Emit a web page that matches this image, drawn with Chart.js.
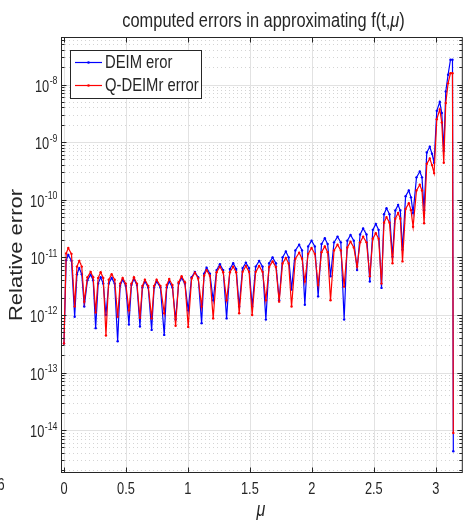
<!DOCTYPE html>
<html>
<head>
<meta charset="utf-8">
<script src="https://cdn.jsdelivr.net/npm/chart.js@4.4.1/dist/chart.umd.min.js"></script>
<style>
  html, body { margin: 0; padding: 0; background: #fff; }
  canvas { display: block; }
</style>
</head>
<body>
<canvas id="errChart" width="464" height="523"></canvas>
<script>
// sample points in mu
const MU = [
  0, 0.0177, 0.0347, 0.0605, 0.0863,
  0.1048, 0.1234, 0.1435, 0.1637,
  0.1895, 0.2153, 0.2355, 0.2556,
  0.2758, 0.2960, 0.3169, 0.3387,
  0.3613, 0.3847, 0.4089, 0.4331,
  0.4532, 0.4734, 0.4984, 0.5242,
  0.5444, 0.5645, 0.5887, 0.6129,
  0.6331, 0.6532, 0.6798, 0.7073,
  0.7274, 0.7476, 0.7782, 0.8089,
  0.8290, 0.8492, 0.8750, 0.9008,
  0.9250, 0.9492, 0.9758, 1.0024,
  1.0298, 1.0565, 1.0831, 1.1105,
  1.1306, 1.1508, 1.1774, 1.2040,
  1.2315, 1.2581, 1.2847, 1.3121,
  1.3387, 1.3653, 1.3895, 1.4137,
  1.4411, 1.4677, 1.4935, 1.5185,
  1.5468, 1.5750, 1.6024, 1.6290,
  1.6556, 1.6831, 1.7097, 1.7363,
  1.7637, 1.7903, 1.8129, 1.8363,
  1.8669, 1.8976, 1.9210, 1.9435,
  1.9702, 1.9976, 2.0242, 2.0508,
  2.0782, 2.1048, 2.1274, 2.1508,
  2.1790, 2.2073, 2.2339, 2.2605,
  2.2863, 2.3121, 2.3387, 2.3653,
  2.3895, 2.4137, 2.4411, 2.4677,
  2.4919, 2.5161, 2.5387, 2.5621,
  2.5823, 2.6024, 2.6266, 2.6508,
  2.6734, 2.6960, 2.7137, 2.7315,
  2.7565, 2.7823, 2.8000, 2.8169,
  2.8444, 2.8710, 2.8887, 2.9056,
  2.9274, 2.9516, 2.9694, 2.9863,
  3.0081, 3.0323, 3.0484, 3.0645,
  3.0806, 3.0992, 3.1185, 3.1347, 3.1416
];

const DEIM_ERR = [
  3.2e-13, 8.9e-12, 1.1e-11, 8.7e-12, 9.3e-13,
  5.1e-12, 6.5e-12, 5.1e-12, 1.4e-12,
  4.0e-12, 5.0e-12, 4.0e-12, 5.9e-13,
  3.5e-12, 4.5e-12, 3.5e-12, 1.0e-12,
  3.5e-12, 4.4e-12, 3.5e-12, 3.5e-13,
  3.2e-12, 4.1e-12, 3.2e-12, 6.8e-13,
  3.3e-12, 4.2e-12, 3.3e-12, 6.3e-13,
  3.0e-12, 3.8e-12, 3.0e-12, 5.5e-13,
  3.0e-12, 3.8e-12, 3.0e-12, 4.5e-13,
  3.0e-12, 3.8e-12, 3.0e-12, 8.3e-13,
  3.5e-12, 4.4e-12, 3.5e-12, 1.2e-12,
  4.5e-12, 5.6e-12, 4.5e-12, 7.2e-13,
  5.2e-12, 6.6e-12, 5.2e-12, 1.8e-12,
  6.0e-12, 7.6e-12, 6.0e-12, 8.7e-13,
  6.3e-12, 7.9e-12, 6.3e-12, 1.4e-12,
  6.5e-12, 8.1e-12, 6.5e-12, 1.4e-12,
  6.9e-12, 8.7e-12, 6.9e-12, 8.3e-13,
  7.9e-12, 1.0e-11, 7.9e-12, 1.8e-12,
  1.0e-11, 1.26e-11, 1.0e-11, 2.75e-12,
  1.32e-11, 1.66e-11, 1.32e-11, 1.5e-12,
  1.55e-11, 1.95e-11, 1.55e-11, 2.1e-12,
  1.7e-11, 2.14e-11, 1.7e-11, 4.7e-12,
  1.82e-11, 2.29e-11, 1.82e-11, 8.3e-13,
  1.95e-11, 2.45e-11, 1.95e-11, 6.0e-12,
  2.5e-11, 3.16e-11, 2.5e-11, 3.8e-12,
  3.0e-11, 3.8e-11, 3.0e-11, 2.95e-12,
  5.6e-11, 7.1e-11, 5.6e-11, 1.02e-11,
  6.5e-11, 8.1e-11, 6.5e-11, 1.35e-11,
  1.15e-10, 1.45e-10, 1.1e-10, 5.9e-11,
  2.45e-10, 3.09e-10, 2.45e-10, 6.6e-11,
  6.6e-10, 8.3e-10, 6.3e-10, 4.4e-10,
  3.5e-9, 5.0e-9, 3.2e-9, 7.1e-10,
  7.6e-9, 1.48e-8, 2.7e-8, 2.7e-8, 4.3e-15
];

const QDEIM_ERR = [
  3.2e-13, 1.17e-11, 1.45e-11, 1.15e-11, 1.4e-12,
  6.9e-12, 8.7e-12, 6.9e-12, 1.7e-12,
  4.5e-12, 5.6e-12, 4.5e-12, 1.1e-12,
  4.4e-12, 5.5e-12, 4.4e-12, 4.4e-13,
  4.1e-12, 5.1e-12, 4.1e-12, 9.3e-13,
  3.5e-12, 4.4e-12, 3.5e-12, 1.2e-12,
  3.5e-12, 4.5e-12, 3.5e-12, 8.9e-13,
  3.2e-12, 4.1e-12, 3.2e-12, 8.7e-13,
  3.2e-12, 4.1e-12, 3.2e-12, 1.07e-12,
  3.3e-12, 4.2e-12, 3.3e-12, 6.5e-13,
  3.7e-12, 4.7e-12, 3.7e-12, 6.2e-13,
  4.3e-12, 5.4e-12, 4.3e-12, 1.4e-12,
  4.8e-12, 6.0e-12, 4.8e-12, 8.7e-13,
  5.5e-12, 6.9e-12, 5.5e-12, 1.8e-12,
  5.5e-12, 6.9e-12, 5.5e-12, 1.07e-12,
  5.6e-12, 7.1e-12, 5.6e-12, 1.0e-12,
  5.6e-12, 7.1e-12, 5.6e-12, 1.8e-12,
  6.8e-12, 8.5e-12, 6.8e-12, 1.7e-12,
  7.8e-12, 9.8e-12, 7.8e-12, 1.4e-12,
  9.5e-12, 1.2e-11, 9.5e-12, 3.8e-12,
  1.15e-11, 1.45e-11, 1.15e-11, 3.3e-12,
  1.23e-11, 1.55e-11, 1.23e-11, 1.8e-12,
  1.32e-11, 1.66e-11, 1.32e-11, 3.1e-12,
  1.48e-11, 1.86e-11, 1.48e-11, 6.9e-12,
  1.82e-11, 2.29e-11, 1.82e-11, 4.7e-12,
  2.1e-11, 2.63e-11, 2.1e-11, 3.5e-12,
  4.0e-11, 5.0e-11, 4.0e-11, 7.9e-12,
  4.7e-11, 5.9e-11, 4.7e-11, 8.5e-12,
  6.9e-11, 8.7e-11, 6.6e-11, 3.4e-11,
  1.45e-10, 1.82e-10, 1.45e-10, 3.9e-11,
  4.2e-10, 5.2e-10, 4.0e-10, 2.9e-10,
  2.5e-9, 3.7e-9, 2.2e-9, 4.4e-10,
  4.8e-9, 1.05e-8, 1.58e-8, 1.58e-8, 8.9e-15
];

const X_TICKS = [0, 0.5, 1, 1.5, 2, 2.5, 3];
const X_TICK_LABELS = ['0', '0.5', '1', '1.5', '2', '2.5', '3'];
const Y_DECADES = [-14, -13, -12, -11, -10, -9, -8];
const SERIES_NAMES = ['DEIM eror', 'Q-DEIMr error'];

const BLUE = '#0000ff';
const RED = '#ff0000';
const INK = '#262626';
const FONT = '"Liberation Sans", Arial, sans-serif';
const SX = 0.8; // the reference text is squeezed horizontally

function squeezed(ctx, str, x, y, size, align, style) {
  ctx.save();
  ctx.translate(x, y);
  ctx.scale(SX, 1);
  ctx.font = (style || '') + ' ' + size + 'px ' + FONT;
  ctx.textAlign = align;
  ctx.textBaseline = 'alphabetic';
  ctx.fillStyle = INK;
  ctx.fillText(str, 0, 0);
  ctx.restore();
}

function widthOf(ctx, str, size, style) {
  ctx.save();
  ctx.font = (style || '') + ' ' + size + 'px ' + FONT;
  const w = ctx.measureText(str).width * SX;
  ctx.restore();
  return w;
}

function hline(ctx, x0, x1, y) { ctx.beginPath(); ctx.moveTo(x0, y); ctx.lineTo(x1, y); ctx.stroke(); }
function vline(ctx, x, y0, y1) { ctx.beginPath(); ctx.moveTo(x, y0); ctx.lineTo(x, y1); ctx.stroke(); }

// matlab style grid: solid majors, dotted minors
const gridPlugin = {
  id: 'matlabGrid',
  beforeDatasetsDraw(chart) {
    const { ctx, chartArea: a, scales: { x, y } } = chart;
    ctx.save();
    ctx.lineWidth = 1;
    ctx.strokeStyle = '#d4d4d4';
    ctx.setLineDash([1, 3]);
    for (let e = -15; e <= -8; e++) {
      for (let k = 2; k <= 9; k++) {
        const v = k * Math.pow(10, e);
        if (v < y.min || v > y.max) continue;
        hline(ctx, a.left, a.right, Math.round(y.getPixelForValue(v)) + 0.5);
      }
    }
    ctx.setLineDash([]);
    ctx.strokeStyle = '#e2e2e2';
    X_TICKS.forEach(t => vline(ctx, Math.round(x.getPixelForValue(t)) + 0.5, a.top, a.bottom));
    Y_DECADES.forEach(e => hline(ctx, a.left, a.right, Math.round(y.getPixelForValue(Math.pow(10, e))) + 0.5));
    ctx.restore();
  },
  afterDatasetsDraw(chart) {
    const { ctx, chartArea: a, scales: { x, y } } = chart;
    ctx.save();
    ctx.strokeStyle = INK;
    ctx.lineWidth = 1;
    const L = a.left + 0.5, R = a.right - 0.5, T = a.top + 0.5, B = a.bottom - 0.5;
    ctx.strokeRect(L, T, R - L, B - T);

    // ticks pointing inward
    X_TICKS.forEach(t => {
      const px = Math.round(x.getPixelForValue(t)) + 0.5;
      vline(ctx, px, B, B - 5);
      vline(ctx, px, T, T + 5);
    });
    for (let e = -15; e <= -8; e++) {
      for (let k = 1; k <= 9; k++) {
        const v = k * Math.pow(10, e);
        if (v < y.min || v > y.max) continue;
        const py = Math.round(y.getPixelForValue(v)) + 0.5;
        const len = k === 1 ? 5 : 3;
        hline(ctx, L, L + len, py);
        hline(ctx, R, R - len, py);
      }
    }

    // tick labels
    X_TICKS.forEach((t, i) => squeezed(ctx, X_TICK_LABELS[i], x.getPixelForValue(t), 494, 16, 'center'));
    Y_DECADES.forEach(e => {
      const py = y.getPixelForValue(Math.pow(10, e));
      const sup = '-' + Math.abs(e);
      const supW = widthOf(ctx, sup, 11);
      squeezed(ctx, sup, 57.5, py - 0.5, 11, 'right');
      squeezed(ctx, '10', 57.5 - supW - 0.5, py + 7, 16, 'right');
    });
    squeezed(ctx, '6', 4.5, 490, 16, 'right');

    // title
    const tA = 'computed errors in approximating f(t,';
    const tB = '\u03bc';
    const tC = ')';
    const ts = 20.5;
    const wA = widthOf(ctx, tA, ts), wB = widthOf(ctx, tB, ts, 'italic'), wC = widthOf(ctx, tC, ts);
    let tx = 263.5 - (wA + wB + wC) / 2;
    squeezed(ctx, tA, tx, 27, ts, 'left'); tx += wA;
    squeezed(ctx, tB, tx, 27, ts, 'left', 'italic'); tx += wB;
    squeezed(ctx, tC, tx, 27, ts, 'left');

    // axis labels
    squeezed(ctx, '\u03bc', 261, 516, 20, 'center', 'italic');
    ctx.save();
    ctx.translate(21.5, (a.top + a.bottom) / 2);
    ctx.scale(SX, 1);
    ctx.rotate(-Math.PI / 2);
    ctx.font = '22px ' + FONT;
    ctx.fillStyle = INK;
    ctx.textAlign = 'center';
    ctx.textBaseline = 'alphabetic';
    ctx.fillText('Relative error', 0, 0);
    ctx.restore();

    // legend box
    ctx.fillStyle = '#fff';
    ctx.fillRect(70.5, 50.5, 131, 48);
    ctx.strokeStyle = INK;
    ctx.strokeRect(70.5, 50.5, 131, 48);
    [[BLUE, 62.5, 67.5], [RED, 85.5, 90.5]].forEach(([col, ly, ty], i) => {
      ctx.strokeStyle = col;
      ctx.lineWidth = 1.2;
      hline(ctx, 75, 102, ly);
      ctx.fillStyle = col;
      ctx.beginPath(); ctx.arc(88.5, ly, 1.3, 0, Math.PI * 2); ctx.fill();
      squeezed(ctx, SERIES_NAMES[i], 105, ty, 18.5, 'left');
    });
    ctx.restore();
  }
};

new Chart(document.getElementById('errChart'), {
  type: 'line',
  data: {
    datasets: [
      { label: SERIES_NAMES[0], data: MU.map((m, i) => ({ x: m, y: DEIM_ERR[i] })), borderColor: BLUE, backgroundColor: BLUE, order: 1 },
      { label: SERIES_NAMES[1], data: MU.map((m, i) => ({ x: m, y: QDEIM_ERR[i] })), borderColor: RED, backgroundColor: RED, order: 0 },
    ],
  },
  options: {
    responsive: false,
    animation: false,
    devicePixelRatio: 1,
    layout: { padding: { top: 37, right: 1, left: 0, bottom: 0 } },
    elements: {
      line: { borderWidth: 1.2, tension: 0 },
      point: { radius: 1.2, borderWidth: 0, hoverRadius: 1.2 },
    },
    plugins: { legend: { display: false }, tooltip: { enabled: false }, title: { display: false } },
    scales: {
      x: {
        type: 'linear', min: -0.024, max: 3.218,
        ticks: { display: false }, grid: { display: false }, border: { display: false },
        afterFit: s => { s.height = 50; },
      },
      y: {
        type: 'logarithmic', min: 1.8e-15, max: 6.7e-8,
        ticks: { display: false }, grid: { display: false }, border: { display: false },
        afterFit: s => { s.width = 61; },
      },
    },
  },
  plugins: [gridPlugin],
});
</script>
</body>
</html>
